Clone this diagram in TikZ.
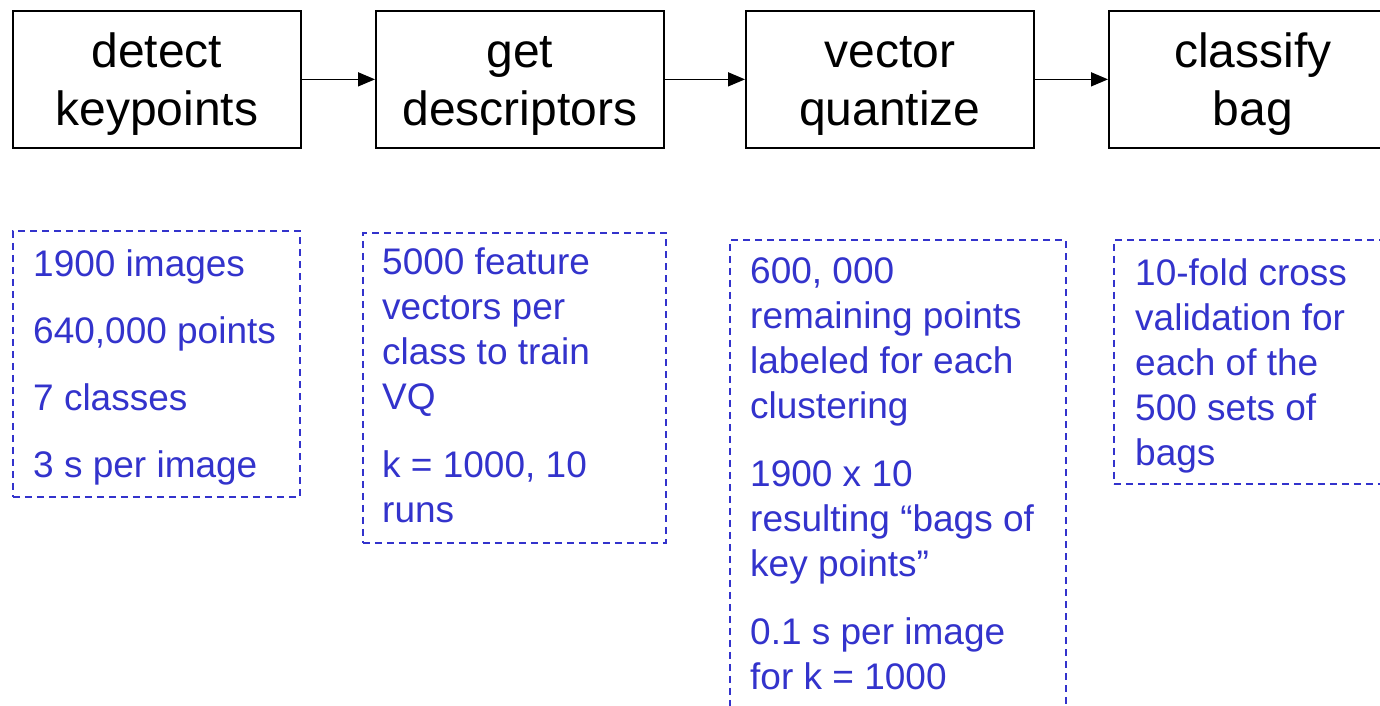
\documentclass[tikz,border=0pt]{standalone}
\usepackage{fontspec}
\setmainfont{Liberation Sans}
\usetikzlibrary{arrows.meta}
\definecolor{noteblue}{RGB}{51,51,204}
\begin{document}
\begin{tikzpicture}[x=1pt,y=-1pt,
  stepbox/.style={draw=black, line width=1.7pt, minimum width=288pt, minimum height=137pt,
    inner sep=0pt, align=center, font=\fontsize{48}{58}\selectfont, anchor=north west,
    text height=103pt, text depth=10pt},
  flow/.style={-{Triangle[length=17pt,width=14pt]}, line width=1.7pt},
  notebox/.style={draw=noteblue, line width=1.7pt, dash pattern=on 7pt off 5pt,
    inner sep=0pt, anchor=north west},
  notetext/.style={text=noteblue, font=\fontsize{37}{45}\selectfont, align=left,
    anchor=base west, inner sep=0pt}
]
\useasboundingbox (0,0) rectangle (1380,705);
\clip (0,0) rectangle (1380,705);
\fill[white] (0,0) rectangle (1380,705);

% process steps
\node[stepbox] (b1) at (12,10) {detect\\keypoints};
\node[stepbox] (b2) at (375,10) {get\\descriptors};
\node[stepbox] (b3) at (745,10) {vector\\quantize};
\node[stepbox] (b4) at (1108,10) {classify\\bag};

\draw[flow] (b1) -- (b2);
\draw[flow] (b2) -- (b3);
\draw[flow] (b3) -- (b4);

% notes
\node[notebox, minimum width=287pt, minimum height=266pt] (n1) at (12,230) {};
\node[notebox, minimum width=303pt, minimum height=310pt] (n2) at (362,232) {};
\node[notebox, minimum width=336pt, minimum height=500pt] (n3) at (729,239) {};
\node[notebox, minimum width=320pt, minimum height=244pt] (n4) at (1113,239) {};

% multi-line texts: anchored at the baseline of their last line
\node[notetext] (t1) at (33,477) {1900 images\\[22pt]640,000 points\\[22pt]7 classes\\[22pt]3 s per image};
\node[notetext] (t2) at (382,522) {5000 feature\\vectors per\\class to train\\VQ\\[23pt]k = 1000, 10\\runs};
\node[notetext] (t3) at (750,689) {600, 000\\remaining points\\labeled for each\\clustering\\[23pt]1900 x 10\\resulting “bags of\\key points”\\[23pt]0.1 s per image\\for k = 1000};
\node[notetext] (t4) at (1135,465) {10-fold cross\\validation for\\each of the\\500 sets of\\bags};
\end{tikzpicture}
\end{document}
